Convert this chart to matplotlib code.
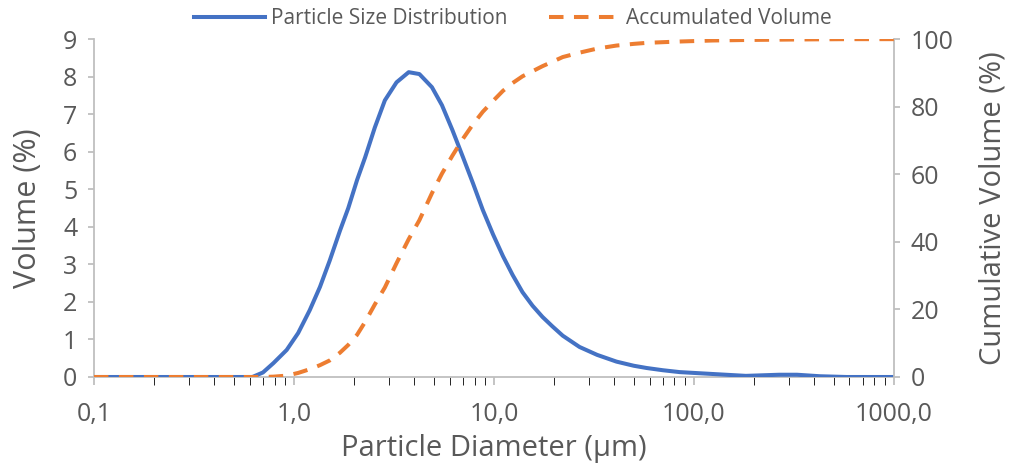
import numpy as np
import matplotlib
matplotlib.use('Agg')
import matplotlib.pyplot as plt
from matplotlib.ticker import FixedLocator, LogLocator, NullFormatter

# particle diameters (um)
diameter = [0.1, 0.2, 0.3, 0.5, 0.62, 0.7, 0.79, 0.92, 1.05, 1.2, 1.35, 1.51,
            1.7, 1.87, 2.07, 2.27, 2.54, 2.85, 3.26, 3.75, 4.24, 4.9, 5.5,
            6.2, 7.0, 7.86, 8.8, 9.9, 11.1, 12.4, 13.9, 15.6, 17.5, 19.6, 22.1, 26.8,
            32.8, 41, 50, 58, 70, 85, 124, 182, 267, 328, 427, 580, 1000]

# volume (%) - particle size distribution
volume = [0, 0, 0, 0, 0, 0.12, 0.37, 0.72, 1.17, 1.78, 2.4, 3.1,
          3.9, 4.5, 5.25, 5.85, 6.65, 7.37, 7.85, 8.12, 8.07, 7.72, 7.24,
          6.58, 5.86, 5.16, 4.45, 3.8, 3.22, 2.72, 2.26, 1.9, 1.6, 1.35, 1.1, 0.8,
          0.59, 0.41, 0.3, 0.24, 0.18, 0.13, 0.08, 0.03, 0.06, 0.06, 0.02, 0, 0]

# cumulative volume (%)
cumulative = [0, 0, 0, 0, 0, 0, 0.1, 0.4, 1.2, 2.3, 3.5, 4.9,
              7.2, 9.5, 12.5, 16.3, 21.5, 26.5, 33.7, 40.8, 46.4, 54.4, 60.2,
              65.5, 70.5, 74.8, 78.5, 81.7, 84.7, 87.0, 89.0, 90.5, 92.0, 93.3, 94.7, 96.0,
              97.2, 98.1, 98.6, 98.9, 99.1, 99.3, 99.6, 99.75, 99.85, 99.9, 99.95, 100, 100]

xticks = [0.1, 1, 10, 100, 1000]
xtick_labels = ['0,1', '1,0', '10,0', '100,0', '1000,0']

grey_text = '#595959'
grey_line = '#BFBFBF'
blue = '#4472C4'
orange = '#ED7D31'

plt.rcParams['font.family'] = ['Open Sans', 'DejaVu Sans']

fig = plt.figure(figsize=(10.1, 4.66), dpi=100)
ax = fig.add_axes([0.093, 0.191, 0.792, 0.725])
ax2 = ax.twinx()

l1, = ax.plot(diameter, volume, color=blue, lw=2.9, label='Particle Size Distribution', zorder=3)
l2, = ax2.plot(diameter, cumulative, color=orange, lw=2.9, dashes=(3.6, 2.6),
               label='Accumulated Volume', zorder=3)

ax.set_xscale('log')
ax.set_xlim(0.1, 1000)
ax.set_ylim(0, 9)
ax2.set_ylim(0, 100)
ax.set_yticks(range(0, 10))
ax2.set_yticks(range(0, 101, 20))
ax.xaxis.set_major_locator(FixedLocator(xticks))
ax.set_xticklabels(xtick_labels)
ax.xaxis.set_minor_locator(LogLocator(base=10, subs=np.arange(2, 10)))
ax.xaxis.set_minor_formatter(NullFormatter())

for a in (ax, ax2):
    a.spines['top'].set_visible(False)
    for s in ('left', 'right', 'bottom'):
        a.spines[s].set_color(grey_line)
        a.spines[s].set_linewidth(1.3)
    a.tick_params(colors=grey_line, labelcolor=grey_text, labelsize=18, width=1.3)
ax.spines['right'].set_visible(False)
ax2.spines['left'].set_visible(False)
ax2.spines['bottom'].set_visible(False)
ax.tick_params(axis='x', which='both', length=6, pad=12)
ax.tick_params(axis='y', length=4, pad=8)
ax2.tick_params(axis='y', length=4, pad=8)

ax.set_xlabel('Particle Diameter (µm)', fontsize=21, color=grey_text, labelpad=5)
ax.set_ylabel('Volume (%)', fontsize=22, color=grey_text, labelpad=14)
ax2.set_ylabel('Cumulative Volume (%)', fontsize=21, color=grey_text, labelpad=18)

fig.legend(handles=[l1, l2], loc='center', bbox_to_anchor=(0.508, 0.96), ncol=2,
           frameon=False, fontsize=15, handlelength=3.4, handletextpad=0.3,
           columnspacing=2.0, labelcolor=grey_text)

fig.savefig('out.png', dpi=100)
